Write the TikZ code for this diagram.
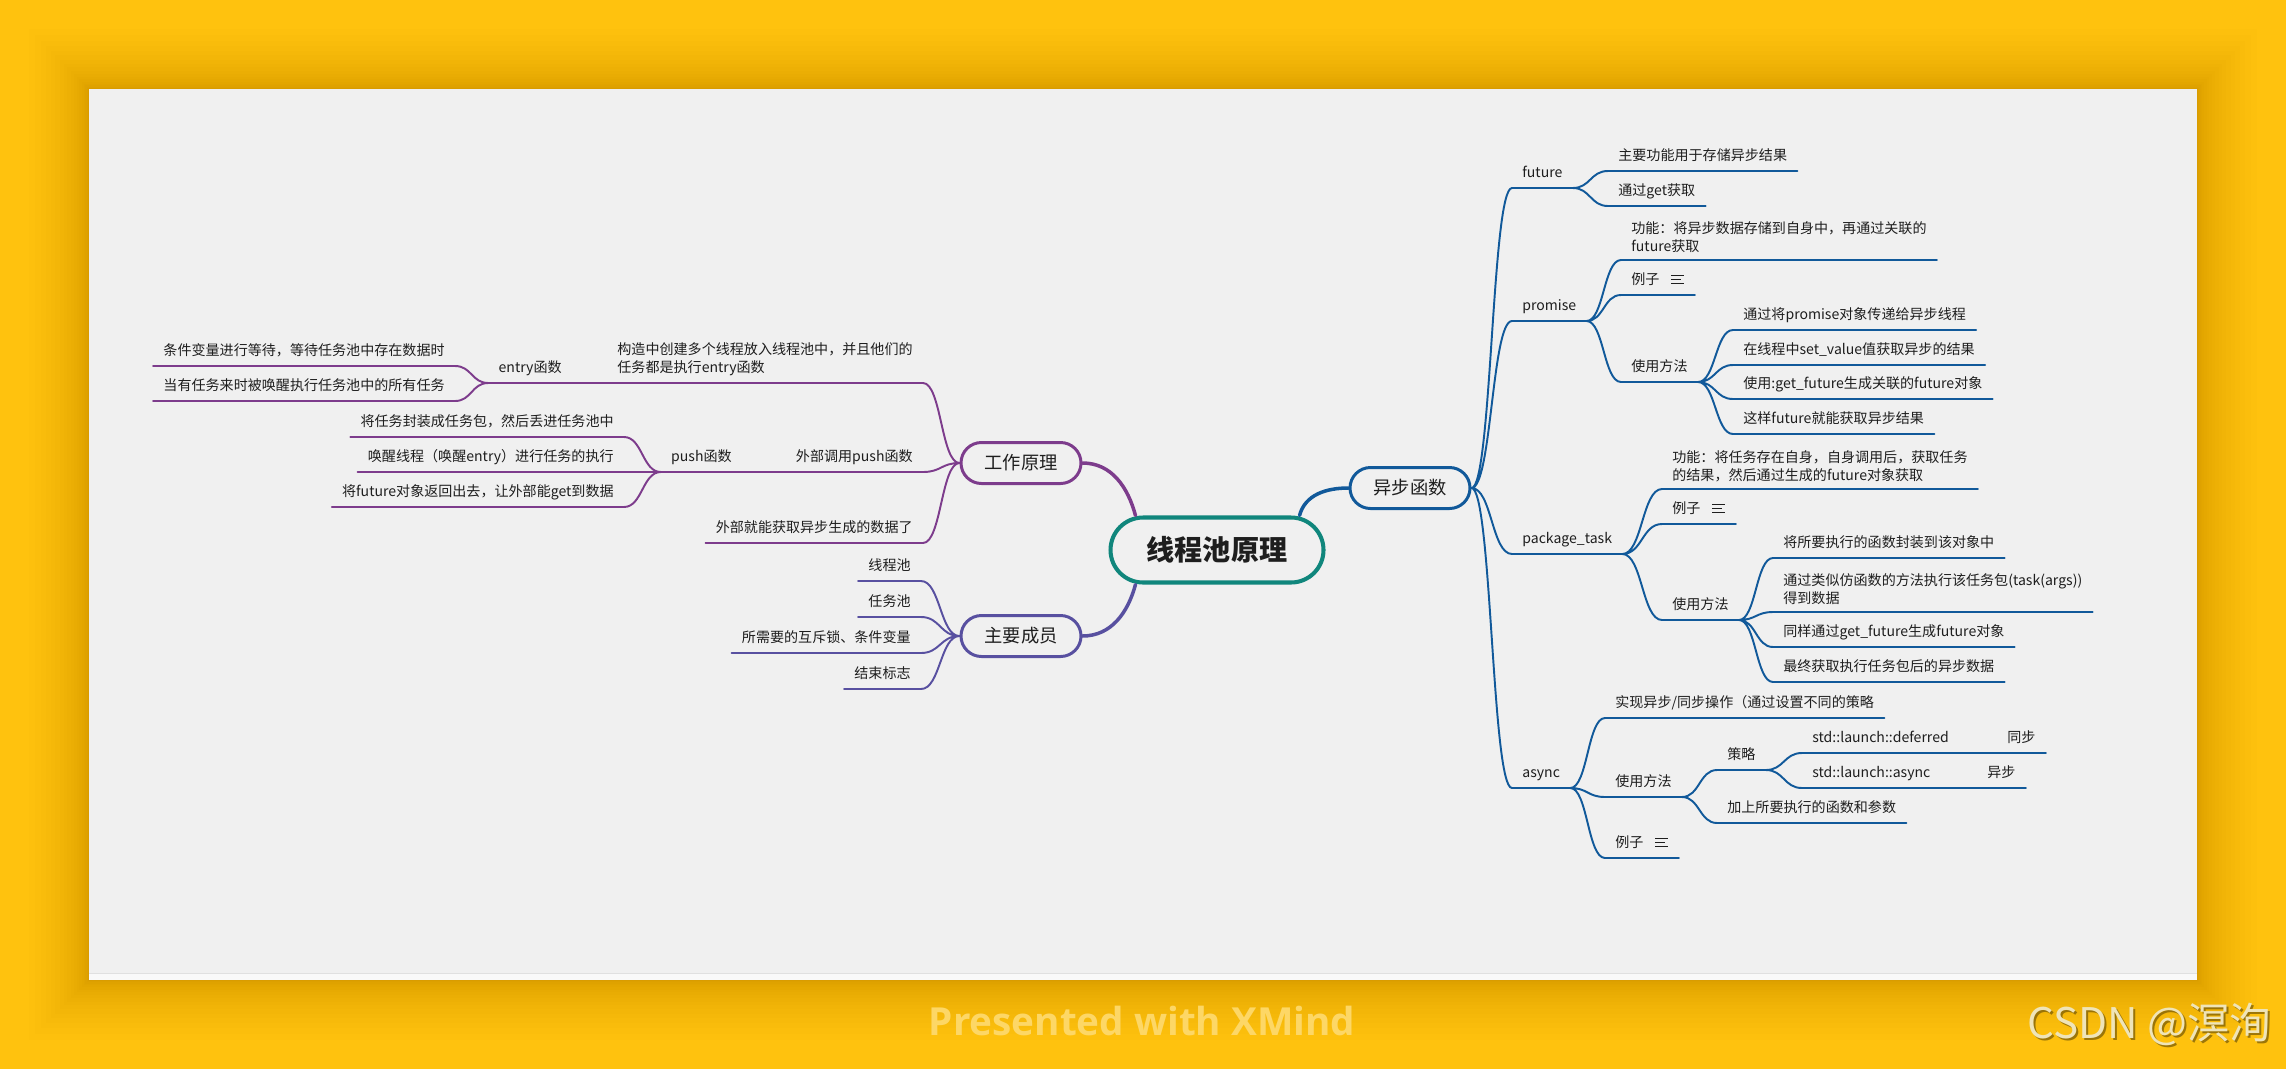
\documentclass[tikz,border=0pt]{standalone}
\usepackage{fontspec}
\setmainfont{Noto Sans CJK SC}
\newfontfamily\xmfont{Open Sans}
\usetikzlibrary{calc}
\definecolor{pnlBg}{HTML}{F0F0F0}
\definecolor{pageY}{HTML}{FFC20E}
\definecolor{asyBlue}{HTML}{11599A}
\definecolor{wrkPurp}{HTML}{7D3C8C}
\definecolor{memInd}{HTML}{5850A0}
\definecolor{rootTeal}{HTML}{10867C}
\definecolor{inkDark}{HTML}{1E1E1E}
\definecolor{markY}{HTML}{FDD766}
\definecolor{csdnTx}{HTML}{EFE4B8}
\newcommand{\leaffont}{\fontsize{8}{10.2}\selectfont}
\newcommand{\noteicon}{\raisebox{0.01cm}{\rlap{\rule[0.16cm]{0.26cm}{0.02cm}}\rlap{\rule[0.08cm]{0.2cm}{0.02cm}}\rule{0.26cm}{0.02cm}}}

\begin{document}
\begin{tikzpicture}[x=2cm,y=2cm,line cap=round,
    rootbox/.style={draw=rootTeal,fill=pnlBg,line width=2.3pt,rounded corners=0.65cm,
                    minimum width=4.26cm,minimum height=1.3cm,inner sep=0pt,
                    font=\fontsize{16}{19}\selectfont\bfseries,text=inkDark},
    topic/.style={draw=#1,fill=pnlBg,line width=1.7pt,rounded corners=0.41cm,
                  minimum width=2.4cm,minimum height=0.82cm,inner sep=0pt,
                  font=\fontsize{10.4}{12}\selectfont,text=inkDark},
    uline/.style={append after command={(\tikzlastnode.south west)
                  edge[draw=#1,line width=1.1pt] (\tikzlastnode.south east)}},
    leafR/.style={uline=#1,anchor=south west,inner xsep=0.2cm,inner ysep=0.14cm,
                  text height=7pt,text depth=1.8pt,align=left,font=\leaffont,text=inkDark},
    leafL/.style={uline=#1,anchor=south east,inner xsep=0.2cm,inner ysep=0.14cm,
                  text height=7pt,text depth=1.8pt,align=right,font=\leaffont,text=inkDark},
    twoline/.style={text height=,text depth=},
    link/.style={draw=#1,line width=1.1pt,
                 to path={.. controls ($(\tikztostart)!0.5!(\tikztotarget|-\tikztostart)$)
                          and ($(\tikztotarget)!0.5!(\tikztostart|-\tikztotarget)$) .. (\tikztotarget)}},
    trunk/.style={draw=#1,line width=2pt}]

  % page, shadow and sheet
  \useasboundingbox (0,0) rectangle (22.86,-10.69);
  \fill[pageY] (0,0) rectangle (22.86,-10.69);
  \foreach \s in {1,...,20}
    \fill[black,opacity=0.006] ({0.89-0.0015*\s*\s},{-0.89+0.0015*\s*\s})
      rectangle ({21.97+0.0015*\s*\s},{-9.80-0.0015*\s*\s});
  \fill[pnlBg] (0.89,-0.89) rectangle (21.97,-9.80);
  \fill[white!60!pnlBg] (0.89,-9.73) rectangle (21.97,-9.80);
  \draw[black!12,line width=0.5pt,line cap=butt] (0.89,-9.73) -- (21.97,-9.73);

  % centre and main topics
  \node[rootbox] (root) at (12.17,-5.50) {线程池原理};
  \node[topic=asyBlue] (sy) at (14.10,-4.88) {异步函数};
  \node[topic=wrkPurp] (gz) at (10.21,-4.63) {工作原理};
  \node[topic=memInd]  (cy) at (10.21,-6.36) {主要成员};

  % 异步函数
  \node[leafR=asyBlue] (fu)  at (15.12,-1.88) {future};
  \node[leafR=asyBlue] (fu1) at (16.08,-1.71) {主要功能用于存储异步结果};
  \node[leafR=asyBlue] (fu2) at (16.08,-2.06) {通过get获取};
  \node[leafR=asyBlue] (pm)  at (15.12,-3.21) {promise};
  \node[leafR=asyBlue,twoline] (pm1) at (16.21,-2.60) {功能：将异步数据存储到自身中，再通过关联的\\future获取};
  \node[leafR=asyBlue] (pm2) at (16.21,-2.95) {例子\hspace{0.24cm}\noteicon};
  \node[leafR=asyBlue] (pm3) at (16.21,-3.82) {使用方法};
  \node[leafR=asyBlue] (pm31) at (17.33,-3.30) {通过将promise对象传递给异步线程};
  \node[leafR=asyBlue] (pm32) at (17.33,-3.65) {在线程中set\_value值获取异步的结果};
  \node[leafR=asyBlue] (pm33) at (17.33,-3.99) {使用:get\_future生成关联的future对象};
  \node[leafR=asyBlue] (pm34) at (17.33,-4.34) {这样future就能获取异步结果};
  \node[leafR=asyBlue] (pt)  at (15.12,-5.54) {package\_task};
  \node[leafR=asyBlue,twoline] (pt1) at (16.62,-4.89) {功能：将任务存在自身，自身调用后，获取任务\\的结果，然后通过生成的future对象获取};
  \node[leafR=asyBlue] (pt2) at (16.62,-5.24) {例子\hspace{0.24cm}\noteicon};
  \node[leafR=asyBlue] (pt3) at (16.62,-6.20) {使用方法};
  \node[leafR=asyBlue] (pt31) at (17.73,-5.58) {将所要执行的函数封装到该对象中};
  \node[leafR=asyBlue,twoline] (pt32) at (17.73,-6.12) {通过类似仿函数的方法执行该任务包(task(args))\\得到数据};
  \node[leafR=asyBlue] (pt33) at (17.73,-6.47) {同样通过get\_future生成future对象};
  \node[leafR=asyBlue] (pt34) at (17.73,-6.82) {最终获取执行任务包后的异步数据};
  \node[leafR=asyBlue] (as)  at (15.12,-7.88) {async};
  \node[leafR=asyBlue] (as1) at (16.05,-7.18) {实现异步/同步操作（通过设置不同的策略};
  \node[leafR=asyBlue] (as2) at (16.05,-7.97) {使用方法};
  \node[leafR=asyBlue] (as21) at (17.17,-7.70) {策略};
  \node[leafR=asyBlue] (as211) at (18.02,-7.53) {\makebox[3.9cm][l]{std::launch::deferred}同步};
  \node[leafR=asyBlue] (as212) at (18.02,-7.88) {\makebox[3.5cm][l]{std::launch::async}异步};
  \node[leafR=asyBlue] (as22) at (17.17,-8.23) {加上所要执行的函数和参数};
  \node[leafR=asyBlue] (as3) at (16.05,-8.58) {例子\hspace{0.24cm}\noteicon};

  % 工作原理
  \node[leafL=wrkPurp,twoline,align=left] (gz1) at (9.23,-3.83) {构造中创建多个线程放入线程池中，并且他们的\\任务都是执行entry函数};
  \node[leafL=wrkPurp] (gz11)  at (5.72,-3.83) {entry函数};
  \node[leafL=wrkPurp] (gz111) at (4.55,-3.66) {条件变量进行等待，等待任务池中存在数据时};
  \node[leafL=wrkPurp] (gz112) at (4.55,-4.01) {当有任务来时被唤醒执行任务池中的所有任务};
  \node[leafL=wrkPurp] (gz2)   at (9.23,-4.72) {外部调用push函数};
  \node[leafL=wrkPurp] (gz21)  at (7.42,-4.72) {push函数};
  \node[leafL=wrkPurp] (gz211) at (6.24,-4.37) {将任务封装成任务包，然后丢进任务池中};
  \node[leafL=wrkPurp] (gz212) at (6.24,-4.72) {唤醒线程（唤醒entry）进行任务的执行};
  \node[leafL=wrkPurp] (gz213) at (6.24,-5.07) {将future对象返回出去，让外部能get到数据};
  \node[leafL=wrkPurp] (gz3)   at (9.23,-5.43) {外部就能获取异步生成的数据了};

  % 主要成员
  \node[leafL=memInd] (cy1) at (9.21,-5.81) {线程池};
  \node[leafL=memInd] (cy2) at (9.21,-6.17) {任务池};
  \node[leafL=memInd] (cy3) at (9.21,-6.53) {所需要的互斥锁、条件变量};
  \node[leafL=memInd] (cy4) at (9.21,-6.89) {结束标志};

  % trunks
  \draw[trunk=asyBlue] ([xshift=-0.52cm]root.north east) to[out=75,in=180] (sy.west);
  \draw[trunk=wrkPurp] ([xshift=0.54cm]root.north west) to[out=105,in=0] (gz.east);
  \draw[trunk=memInd]  ([xshift=0.54cm]root.south west) to[out=-105,in=0] (cy.east);

  % branches, right
  \draw[link=asyBlue] (sy.east) to (fu.south west) (sy.east) to (pm.south west)
                      (sy.east) to (pt.south west) (sy.east) to (as.south west);
  \draw[link=asyBlue] (fu.south east) to (fu1.south west) (fu.south east) to (fu2.south west);
  \draw[link=asyBlue] (pm.south east) to (pm1.south west) (pm.south east) to (pm2.south west)
                      (pm.south east) to (pm3.south west);
  \draw[link=asyBlue] (pm3.south east) to (pm31.south west) (pm3.south east) to (pm32.south west)
                      (pm3.south east) to (pm33.south west) (pm3.south east) to (pm34.south west);
  \draw[link=asyBlue] (pt.south east) to (pt1.south west) (pt.south east) to (pt2.south west)
                      (pt.south east) to (pt3.south west);
  \draw[link=asyBlue] (pt3.south east) to (pt31.south west) (pt3.south east) to (pt32.south west)
                      (pt3.south east) to (pt33.south west) (pt3.south east) to (pt34.south west);
  \draw[link=asyBlue] (as.south east) to (as1.south west) (as.south east) to (as2.south west)
                      (as.south east) to (as3.south west);
  \draw[link=asyBlue] (as2.south east) to (as21.south west) (as2.south east) to (as22.south west);
  \draw[link=asyBlue] (as21.south east) to (as211.south west) (as21.south east) to (as212.south west);

  % branches, left
  \draw[link=wrkPurp] (gz.west) to (gz1.south east) (gz.west) to (gz2.south east)
                      (gz.west) to (gz3.south east);
  \draw[link=wrkPurp] (gz1.south west) to (gz11.south east);
  \draw[link=wrkPurp] (gz11.south west) to (gz111.south east) (gz11.south west) to (gz112.south east);
  \draw[link=wrkPurp] (gz2.south west) to (gz21.south east);
  \draw[link=wrkPurp] (gz21.south west) to (gz211.south east) (gz21.south west) to (gz212.south east)
                      (gz21.south west) to (gz213.south east);
  \draw[link=memInd] (cy.west) to (cy1.south east) (cy.west) to (cy2.south east)
                     (cy.west) to (cy3.south east) (cy.west) to (cy4.south east);

  % watermarks
  \node[font=\xmfont\bfseries\fontsize{22}{26}\selectfont,text=markY] (xm) at (11.42,-10.21) {Presented with XMind};
  \node[anchor=base east,font=\fontsize{24}{28}\selectfont,text=black!55!pageY,opacity=0.7] (csdnS) at (22.80,-10.40) {CSDN @溟洵};
  \node[anchor=base east,font=\fontsize{24}{28}\selectfont,text=csdnTx] (csdn) at (22.78,-10.38) {CSDN @溟洵};
\end{tikzpicture}
\end{document}
